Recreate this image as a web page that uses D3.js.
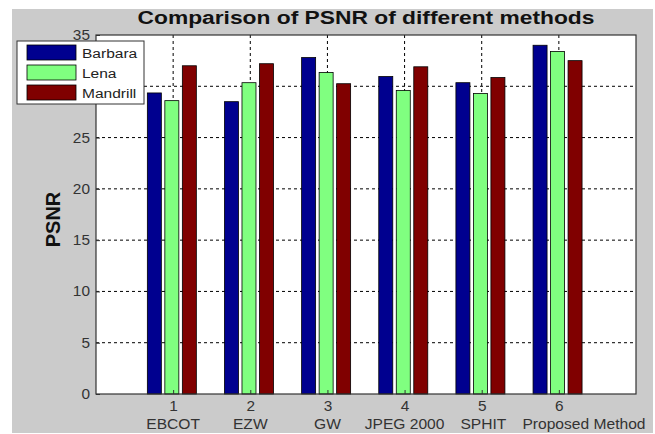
<!DOCTYPE html>
<html><head><meta charset="utf-8">
<script src="https://cdn.jsdelivr.net/npm/d3@7"></script>
<style>body{margin:0;background:#fff}svg{display:block}text{font-family:"Liberation Sans",Arial,sans-serif}</style>
</head><body><svg id="c" width="655" height="434"></svg>
<script>
const ticks = [1,2,3,4,5,6];
const methods = ["EBCOT","EZW","GW","JPEG 2000","SPHIT","Proposed Method"];
const seriesNames = ["Barbara","Lena","Mandrill"];
const barbara = [29.35,28.5,32.8,30.95,30.35,34.0];
const lena = [28.6,30.35,31.35,29.6,29.3,33.4];
const mandrill = [32.0,32.2,30.25,31.9,30.85,32.5];
const colors = ["#00008f","#80ff80","#800000"];
const yTicks = [0,5,10,15,20,25,30,35];

const svg = d3.select("#c");
const M = {l:96, r:636, t:35, b:394};
svg.append("rect").attr("x",12).attr("y",9).attr("width",641).attr("height",424).attr("fill","#cbcbcb");
svg.append("rect").attr("x",M.l).attr("y",M.t).attr("width",M.r-M.l).attr("height",M.b-M.t).attr("fill","#fff");

const x = d3.scaleLinear().domain([0,7]).range([M.l,M.r]);
const y = d3.scaleLinear().domain([0,35]).range([M.b,M.t]);

function stext(parent, px, py, str, size, sx, anchor, weight, fill){
  return parent.append("text")
    .attr("transform",`translate(${px},${py}) scale(${sx},1)`)
    .attr("text-anchor",anchor).attr("font-size",size)
    .attr("font-weight",weight||"normal").attr("fill",fill||"#333").text(str);
}

// grid
const g = svg.append("g");
g.selectAll("line.h").data(yTicks.slice(1,-1)).join("line")
  .attr("x1",M.l).attr("x2",M.r).attr("y1",d=>y(d)).attr("y2",d=>y(d))
  .attr("stroke","#000").attr("stroke-dasharray","3,3").attr("stroke-width",1);
g.selectAll("line.v").data(ticks).join("line")
  .attr("x1",d=>x(d)).attr("x2",d=>x(d)).attr("y1",M.t).attr("y2",M.b)
  .attr("stroke","#000").attr("stroke-dasharray","3,3").attr("stroke-width",1);

// bars
const series = [barbara,lena,mandrill];
const bw = 14, step = 17.5;
series.forEach((vals,si)=>{
  svg.append("g").selectAll("rect").data(vals).join("rect")
    .attr("x",(d,i)=>x(ticks[i]) - 1.3 + (si-1)*step - bw/2)
    .attr("width",bw)
    .attr("y",d=>y(d)).attr("height",d=>y(0)-y(d))
    .attr("fill",colors[si]).attr("stroke","#000").attr("stroke-width",0.8);
});

// axes
const yAxis = d3.axisLeft(y).tickValues(yTicks).tickSize(-4).tickPadding(5.5);
const ya = svg.append("g").attr("transform",`translate(${M.l},0)`).call(yAxis);
ya.select(".domain").remove();
ya.selectAll("text").attr("font-size",14).attr("fill","#333").attr("transform","scale(1.1,1)")
  .style("font-family","Liberation Sans, Arial, sans-serif");
ya.selectAll("line").attr("stroke","#333");
const xAxis = d3.axisBottom(x).tickValues(ticks).tickSize(-4).tickPadding(7).tickFormat(d3.format("d"));
const xa = svg.append("g").attr("transform",`translate(0,${M.b})`).call(xAxis);
xa.select(".domain").remove();
xa.selectAll("text").attr("font-size",14).attr("fill","#333").attr("transform","scale(1.1,1)")
  .style("font-family","Liberation Sans, Arial, sans-serif");
xa.selectAll("line").attr("stroke","#333");

// category names (shifted right only when they would collide with the previous one)
const ng = svg.append("g");
let prevRight = -Infinity;
methods.forEach((m,i)=>{
  const t = stext(ng, 0, 429, m, 15, 1.04, "middle");
  const w = t.node().getBBox().width*1.04;
  let cx = x(ticks[i]);
  if (cx - w/2 < prevRight + 16) cx = prevRight + 16 + w/2;
  t.attr("transform",`translate(${cx},429) scale(1.04,1)`);
  prevRight = cx + w/2;
});

// frame
svg.append("rect").attr("x",M.l).attr("y",M.t).attr("width",M.r-M.l).attr("height",M.b-M.t)
  .attr("fill","none").attr("stroke","#333").attr("stroke-width",1.2);

// title and label
stext(svg,(M.l+M.r)/2,24,"Comparison of PSNR of different methods",19,1.2,"middle","bold","#111");
svg.append("text").attr("transform",`translate(60,219.5) rotate(-90)`).attr("text-anchor","middle")
  .attr("font-size",20).attr("font-weight","bold").attr("fill","#111").text("PSNR");

// legend
const lg = svg.append("g");
lg.append("rect").attr("x",17).attr("y",41).attr("width",127).attr("height",63).attr("fill","#fff").attr("stroke","#333").attr("stroke-width",1);
seriesNames.forEach((n,i)=>{
  lg.append("rect").attr("x",27).attr("y",45+i*20).attr("width",49).attr("height",15).attr("fill",colors[i]).attr("stroke","#000").attr("stroke-width",0.8);
  stext(lg,82,58.3+i*20,n,13.5,1.15,"start","normal","#222");
});
</script></body></html>
